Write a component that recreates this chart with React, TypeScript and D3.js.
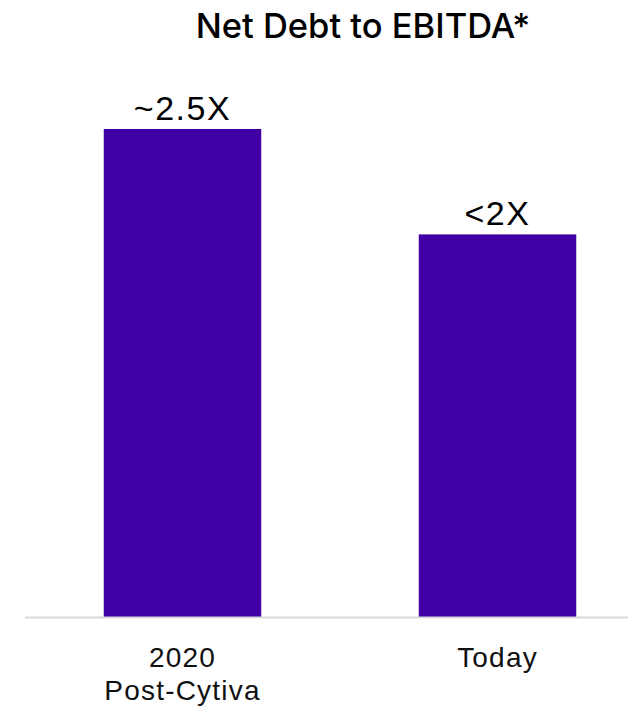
import React from "react";
import * as d3 from "d3";

const categories: string[][] = [["2020", "Post-Cytiva"], ["Today"]];
const values: number[] = [2.5, 1.96];
const valueLabels: string[] = ["~2.5X", "<2X"];
const title = "Net Debt to EBITDA*";

const W = 628;
const H = 708;
const BAR = "#4100A3";
const FONT = "'Liberation Sans', Arial, Helvetica, sans-serif";
const TITLE_FONT = "Inter, 'Liberation Sans', Arial, sans-serif";

export default function App() {
  const keys = categories.map((c) => c.join(" "));
  const x = d3.scaleBand<string>().domain(keys).range([25, 655]).paddingInner(0.5).paddingOuter(0.25);
  const y = d3.scaleLinear().domain([0, 2.5]).range([617, 129]);

  return (
    <div style={{ position: "absolute", left: 0, top: 0 }}>
      <svg width={W} height={H} style={{ display: "block", background: "#fff" }} fontFamily={FONT}>
        <text x={363} y={38} textAnchor="middle" fontSize={34.5} fontWeight={500} fill="#000" fontFamily={TITLE_FONT}>
          {title}
        </text>
        {values.map((v, i) => {
          const k = keys[i];
          const bx = x(k)!;
          return (
            <g key={k}>
              <rect x={bx} y={y(v)} width={x.bandwidth()} height={y(0) - y(v)} fill={BAR} />
              <text x={bx + x.bandwidth() / 2} y={y(v) - 9} textAnchor="middle" fontSize={34} fill="#000" letterSpacing={1.5}>
                {valueLabels[i]}
              </text>
              {categories[i].map((line, j) => (
                <text key={j} x={bx + x.bandwidth() / 2} y={667 + j * 33} textAnchor="middle" fontSize={28} fill="#111" letterSpacing={1.2}>
                  {line}
                </text>
              ))}
            </g>
          );
        })}
        <line x1={25} x2={W} y1={y(0) + 0.5} y2={y(0) + 0.5} stroke="#d9d9d9" strokeWidth={2} />
      </svg>
    </div>
  );
}
